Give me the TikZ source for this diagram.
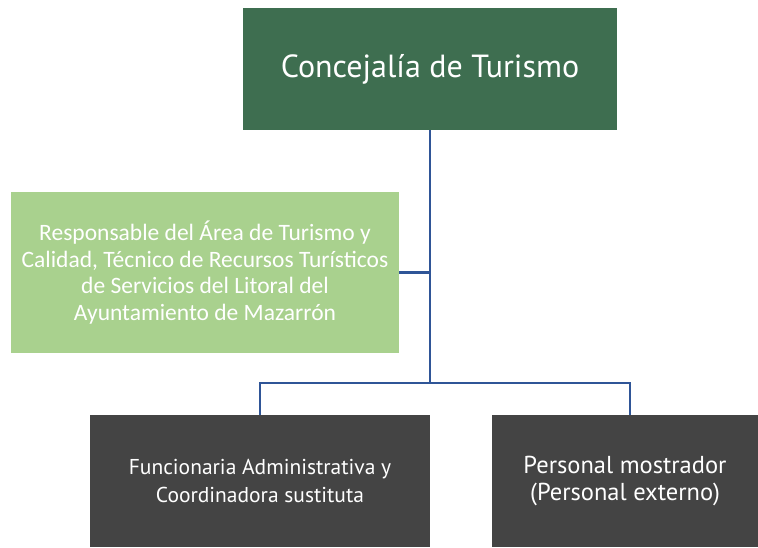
\documentclass[tikz,border=0pt]{standalone}
\usepackage{fontspec}
\setmainfont{Carlito}
\newfontfamily\dinfont{PT Sans}
\definecolor{topgreen}{HTML}{3E6E50}
\definecolor{lightgreen}{HTML}{A9D18E}
\definecolor{darkgrey}{HTML}{444444}
\definecolor{lineblue}{HTML}{2F5597}
\begin{document}
\begin{tikzpicture}[x=1pt,y=1pt,
  box/.style={rectangle,inner sep=0pt,align=center,text=white},
  conn/.style={draw=lineblue,line width=2.3pt}]
\useasboundingbox (0,0) rectangle (758,547);
\node[box,fill=topgreen,minimum width=374pt,minimum height=122pt,
  font=\dinfont\fontsize{32}{36}\selectfont] (top) at (430,478) {Concejalía de Turismo};
\node[box,fill=lightgreen,minimum width=388pt,minimum height=161pt,
  font=\fontsize{23.5}{26.5}\selectfont] (resp) at (205,274.5)
  {Responsable del Área de Turismo y\\Calidad, Técnico de Recursos Turísticos\\de Servicios del Litoral del\\Ayuntamiento de Mazarrón};
\node[box,fill=darkgrey,minimum width=340pt,minimum height=132pt,
  font=\dinfont\fontsize{21.5}{28}\selectfont] (func) at (260,66)
  {Funcionaria Administrativa y\\Coordinadora sustituta};
\node[box,fill=darkgrey,minimum width=266pt,minimum height=132pt,
  font=\dinfont\fontsize{24.5}{27}\selectfont] (pers) at (625,66)
  {Personal mostrador\\(Personal externo)};
\coordinate (bus) at (430,164);
\coordinate (mid) at (430,274.5);
\draw[conn] (top.south) -- (bus);
\draw[conn] (resp.east) -- (mid);
\draw[conn] (func.north -| 260,0) |- (bus) -| (630,132);
\end{tikzpicture}
\end{document}
